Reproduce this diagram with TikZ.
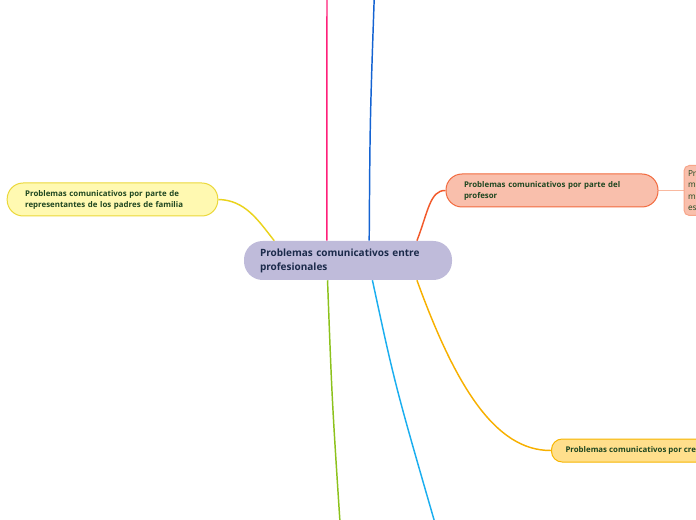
\documentclass[tikz,border=0pt]{standalone}
\usepackage{fontspec}
\setmainfont{Open Sans}
\usepackage{tikz}
\usetikzlibrary{positioning, backgrounds}

\definecolor{rootfill}{HTML}{BFBBDA}
\definecolor{roottext}{HTML}{1B2A4A}
\definecolor{topictext}{HTML}{1E4620}
\definecolor{padresfill}{HTML}{FFF9B1}
\definecolor{padresline}{HTML}{EBD83A}
\definecolor{profefill}{HTML}{F9BFAC}
\definecolor{profeline}{HTML}{F26A3E}
\definecolor{subline}{HTML}{F7A58A}
\definecolor{creefill}{HTML}{FFDF8C}
\definecolor{creeline}{HTML}{F7B500}
\definecolor{rosa}{HTML}{FF1F7A}
\definecolor{azul}{HTML}{1463D2}
\definecolor{rojizo}{HTML}{F2592A}
\definecolor{amarillo}{HTML}{EAD31C}
\definecolor{naranja}{HTML}{F7B000}
\definecolor{verde}{HTML}{8CC21C}
\definecolor{celeste}{HTML}{1BAEEF}
\definecolor{salmon}{HTML}{F9B9A0}

\begin{document}
\begin{tikzpicture}[
  x=0.75pt, y=-0.75pt,
  root/.style={fill=rootfill, rounded corners=14pt, minimum width=156pt,
               minimum height=29.25pt, inner xsep=12pt, text width=132pt,
               align=left, text=roottext,
               font=\fontsize{7.5}{10.5}\selectfont\bfseries},
  topic/.style={draw, line width=0.75pt, rounded corners=12pt,
                minimum height=24.75pt, inner xsep=13.5pt, align=left,
                text=topictext, font=\fontsize{5.9}{8.3}\selectfont\bfseries},
  subtopic/.style={draw=subline, fill=profefill, line width=0.75pt,
                   rounded corners=4pt, minimum height=37.5pt, inner xsep=3pt,
                   align=left, text=topictext,
                   font=\fontsize{6.2}{8.6}\selectfont},
  link/.style={line width=1.1pt},
]
\clip (0,0) rectangle (696,520);
\node[root] (root) at (348,260.5) {Problemas comunicativos entre\\profesionales};
\node[topic, draw=padresline, fill=padresfill, text width=131pt]
  (padres) at (112.5,199.5)
  {Problemas comunicativos por parte de\\representantes de los padres de familia};
\node[topic, draw=profeline, fill=profefill, text width=132pt]
  (profesor) at (552,190.5)
  {Problemas comunicativos por parte del\\profesor};
\node[subtopic, anchor=west, right=18.75pt of profesor] (mensajes)
  {Profesores con\\mensajes poco\\motivadores para\\estudiantes};
\node[topic, draw=creeline, fill=creefill, minimum height=17.25pt,
      rounded corners=8pt, anchor=west, inner xsep=10.5pt] (creencias) at (551,450.5)
  {Problemas comunicativos por creencias};
\coordinate (arriba1) at (327,-10);
\coordinate (arriba2) at (374.5,-10);
\coordinate (abajo1) at (340.5,530);
\coordinate (abajo2) at (437,530);
\begin{scope}[on background layer]
  \draw[link, rosa] (root.137) -- (arriba1);
  \draw[link, azul] (root.43) .. controls (370,120) .. (arriba2);
  \draw[link, amarillo] (root.165) .. controls (258,220) and (245,200) .. (padres.east);
  \draw[link, rojizo] (root.16) .. controls (428,212) and (430,190) .. (profesor.west);
  \draw[link, salmon, line width=0.75pt] (profesor.east) -- (mensajes.west);
  \draw[link, naranja] (root.344) .. controls (455,385) and (495,451) .. (creencias.west);
  \draw[link, verde] (root.224) .. controls (332,400) .. (abajo1);
  \draw[link, celeste] (root.321) .. controls (395,385) .. (abajo2);
\end{scope}
\end{tikzpicture}
\end{document}
